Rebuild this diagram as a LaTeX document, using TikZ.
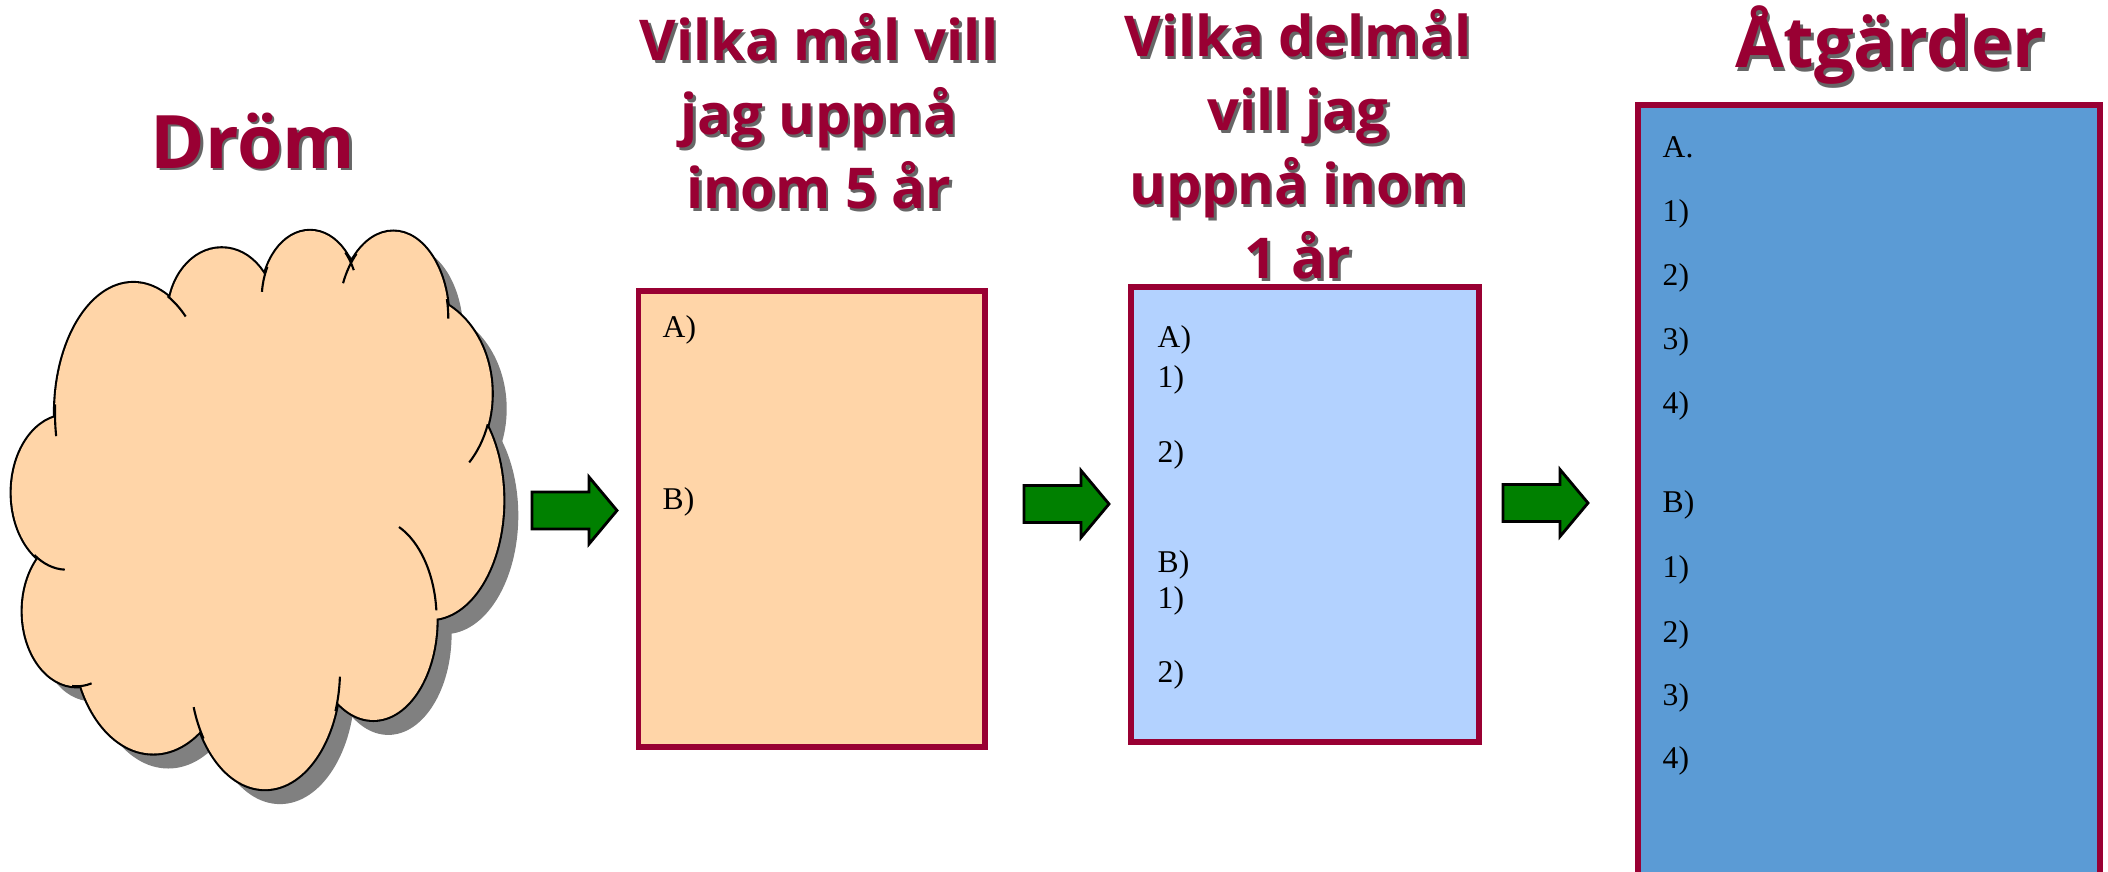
\documentclass[tikz,border=0pt]{standalone}
\usepackage{fontspec}
\setmainfont{Liberation Serif}
\newfontfamily\headfont{Open Sans}
\definecolor{drommaroon}{RGB}{153,0,51}
\definecolor{drompeach}{RGB}{255,213,168}
\definecolor{ljusbla}{RGB}{179,210,255}
\definecolor{mellanbla}{RGB}{91,155,213}
\definecolor{pilgron}{RGB}{0,128,0}
\definecolor{skugga}{RGB}{128,128,128}

\tikzset{
  goalbox/.style={draw=drommaroon,line width=1.6pt,outer sep=0pt,inner sep=0pt,anchor=north west},
  item/.style={anchor=base west,inner sep=0pt,font=\fontsize{9}{11}\selectfont},
  heading/.style={anchor=base,inner sep=0pt,align=center,text=drommaroon},
  headshadow/.style={heading,text=black!60},
  greenarrow/.style={draw=black,fill=pilgron,line width=.8pt,line join=miter},
  cloudline/.style={draw=black,line width=.6pt},
  pics/greenpil/.style={code={
    \draw[greenarrow] (0,.185) -- (.57,.185) -- (.57,.335) -- (.85,0)
      -- (.57,-.335) -- (.57,-.185) -- (0,-.185) -- cycle;}},
}
\def\puffs{1.333/4.575/.783/1.305, 2.217/5.563/.533/.664, 3.10/5.721/.483/.68,
  3.933/5.524/.55/.87, 4.117/4.773/.80/.989, 4.30/3.705/.733/1.186,
  3.733/2.519/.633/1.008, 2.65/2.005/.75/1.186, 1.533/2.361/.80/1.186,
  .767/2.598/.54/.751, .667/3.784/.55/.771}

\begin{document}
\begin{tikzpicture}[x=1cm,y=1cm]
  \useasboundingbox (0,0) rectangle (21.08,8.71);

  % cloud: shadow, outline, fill, inner tails
  \foreach \cx/\cy/\rx/\ry in \puffs
    \fill[skugga] (\cx+.15,\cy-.15) ellipse[x radius=\rx,y radius=\ry];
  \fill[skugga] (2.75,3.555) ellipse[x radius=1.6,y radius=1.78];
  \foreach \cx/\cy/\rx/\ry in \puffs
    \draw[line width=1.2pt] (\cx,\cy) ellipse[x radius=\rx,y radius=\ry];
  \foreach \cx/\cy/\rx/\ry in \puffs
    \fill[drompeach] (\cx,\cy) ellipse[x radius=\rx,y radius=\ry];
  \fill[drompeach] (2.6,3.705) ellipse[x radius=1.6,y radius=1.78];
  \foreach \cx/\cy/\rx/\ry/\a/\b in {1.333/4.575/.783/1.305/176/190,
      1.333/4.575/.783/1.305/64/48, 3.10/5.721/.483/.68/152/174,
      3.10/5.721/.483/.68/43/25, 3.933/5.524/.55/.87/132/156,
      3.933/5.524/.55/.87/13/0, 4.117/4.773/.80/.989/-18/-44,
      3.733/2.519/.633/1.008/66/5, 2.65/2.005/.75/1.186/-20/-3,
      2.65/2.005/.75/1.186/215/198, .767/2.598/.54/.751/265/286,
      .667/3.784/.55/.771/234/268}
    \draw[cloudline] (\cx,\cy) ++(\a:{\rx} and {\ry})
      arc[start angle=\a,end angle=\b,x radius=\rx,y radius=\ry];

  % headings
  \node[headshadow,font=\headfont\bfseries\fontsize{21}{25}\selectfont] (drom-s) at (2.555,7.0) {Dröm};
  \node[heading,font=\headfont\bfseries\fontsize{21}{25}\selectfont] (drom) at (2.53,7.03) {Dröm};
  \node[headshadow,font=\headfont\bfseries\fontsize{16}{21}\selectfont] (mal5-s) at (8.215,6.60) {Vilka mål vill\\jag uppnå\\inom 5 år};
  \node[heading,font=\headfont\bfseries\fontsize{16}{21}\selectfont] (mal5-t) at (8.19,6.63) {Vilka mål vill\\jag uppnå\\inom 5 år};
  \node[headshadow,font=\headfont\bfseries\fontsize{16}{21}\selectfont] (delmal-s) at (13.005,5.90) {Vilka delmål\\vill jag\\uppnå inom\\1 år};
  \node[heading,font=\headfont\bfseries\fontsize{16}{21}\selectfont] (delmal-t) at (12.98,5.93) {Vilka delmål\\vill jag\\uppnå inom\\1 år};
  \node[headshadow,font=\headfont\bfseries\fontsize{20}{24}\selectfont] (atg-s) at (18.925,8.0) {Åtgärder};
  \node[heading,font=\headfont\bfseries\fontsize{20}{24}\selectfont] (atg-t) at (18.90,8.03) {Åtgärder};

  % boxes
  \node[goalbox,fill=drompeach,minimum width=3.465cm,minimum height=4.56cm] (mal5) at (6.385,5.80) {};
  \node[goalbox,fill=ljusbla,minimum width=3.48cm,minimum height=4.55cm] (delmal) at (11.31,5.84) {};
  \node[goalbox,fill=mellanbla,minimum width=4.62cm,minimum height=7.9cm] (atg) at (16.38,7.66) {};

  \node[item] (m-a) at (6.62,5.34) {A)};
  \node[item] (m-b) at (6.62,3.62) {B)};

  \node[item] (d-a) at (11.57,5.24) {A)};
  \node[item] (d-a1) at (11.57,4.84) {1)};
  \node[item] (d-a2) at (11.57,4.09) {2)};
  \node[item] (d-b) at (11.57,2.99) {B)};
  \node[item] (d-b1) at (11.57,2.63) {1)};
  \node[item] (d-b2) at (11.57,1.89) {2)};

  \node[item] (a-a) at (16.62,7.14) {A.};
  \node[item] (a-a1) at (16.62,6.50) {1)};
  \node[item] (a-a2) at (16.62,5.86) {2)};
  \node[item] (a-a3) at (16.62,5.22) {3)};
  \node[item] (a-a4) at (16.62,4.58) {4)};
  \node[item] (a-b) at (16.62,3.59) {B)};
  \node[item] (a-b1) at (16.62,2.94) {1)};
  \node[item] (a-b2) at (16.62,2.29) {2)};
  \node[item] (a-b3) at (16.62,1.66) {3)};
  \node[item] (a-b4) at (16.62,1.03) {4)};

  % arrows between the steps
  \pic (pil1) at (5.32,3.605) {greenpil};
  \pic (pil2) at (10.24,3.67) {greenpil};
  \pic (pil3) at (15.03,3.68) {greenpil};
\end{tikzpicture}
\end{document}
